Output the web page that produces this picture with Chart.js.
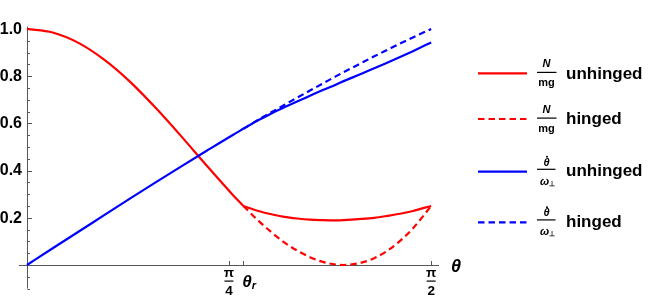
<!DOCTYPE html>
<html>
<head>
<meta charset="utf-8">
<script src="https://cdn.jsdelivr.net/npm/chart.js@4.4.1/dist/chart.umd.min.js"></script>
<style>
  html, body { margin: 0; padding: 0; background: #fff; }
  #wrap { width: 654px; height: 300px; }
</style>
</head>
<body>
<div id="wrap"><canvas id="myChart" width="654" height="300"></canvas></div>
<script>
// ---------------- data ----------------
// both cases share the curve until the rod lets go at theta_r
const thetaBefore = [0, 0.1, 0.2, 0.3, 0.4, 0.5, 0.6, 0.7, 0.8, 0.841];
const normalBefore = [1, 0.985, 0.941, 0.870, 0.777, 0.666, 0.545, 0.419, 0.297, 0.25];
const rateBefore = [0, 0.071, 0.141, 0.211, 0.281, 0.350, 0.418, 0.485, 0.551, 0.577];

const thetaAfter = [0.841, 0.9, 0.95, 1.0, 1.05, 1.1, 1.15, 1.2, 1.231, 1.3, 1.35, 1.4, 1.45, 1.5, 1.571];
const normalUnhinged = [0.25, 0.229, 0.215, 0.204, 0.197, 0.192, 0.190, 0.189, 0.190, 0.195, 0.200, 0.208, 0.217, 0.229, 0.25];
const normalHinged = [0.25, 0.187, 0.139, 0.096, 0.061, 0.033, 0.013, 0.002, 0, 0.010, 0.029, 0.060, 0.102, 0.155, 0.25];
const rateUnhinged = [0.577, 0.614, 0.642, 0.668, 0.693, 0.717, 0.741, 0.764, 0.779, 0.810, 0.834, 0.857, 0.881, 0.906, 0.943];
const rateHinged = [0.577, 0.616, 0.647, 0.678, 0.709, 0.739, 0.769, 0.799, 0.817, 0.856, 0.884, 0.911, 0.938, 0.964, 1.0];

const xTickValues = [0.785, 0.841, 1.571];
const xTickLabels = [['π', '4'], ['θ', 'r'], ['π', '2']];
const yTickValues = [0.2, 0.4, 0.6, 0.8, 1.0];
const yTickLabels = ['0.2', '0.4', '0.6', '0.8', '1.0'];

const RED = '#ff0000';
const BLUE = '#0000ff';
const AXIS = '#555555';
const FONT = "'Liberation Sans', Arial, sans-serif";

function toPoints(xs, ys){
  return xs.map((x, i) => ({x: x, y: ys[i]}));
}

function curve(xs, ys, color, dashed){
  return {
    data: toPoints(xs, ys),
    borderColor: color,
    borderWidth: 2.2,
    borderDash: dashed ? [6.5, 4] : [],
    pointRadius: 0,
    fill: false,
    cubicInterpolationMode: 'monotone',
    clip: false
  };
}

// legend rows: [color, dashed, fraction top, fraction bottom, text, line y, text baseline]
const legendRows = [
  [RED, false, 'N', 'mg', 'unhinged', 73.3, 78.5],
  [RED, true, 'N', 'mg', 'hinged', 119, 123.5],
  [BLUE, false, 'θ', 'ω', 'unhinged', 171.7, 176],
  [BLUE, true, 'θ', 'ω', 'hinged', 222.3, 227]
];

//------------------ drawing helpers ------------------

function line(ctx, x1, y1, x2, y2){
  ctx.beginPath();
  ctx.moveTo(x1, y1);
  ctx.lineTo(x2, y2);
  ctx.stroke();
}

const axesPlugin = {
  id: 'mmaAxes',
  beforeDatasetsDraw(chart){
    const ctx = chart.ctx;
    const xs = chart.scales.x, ys = chart.scales.y;
    const area = chart.chartArea;
    const x0 = Math.round(xs.getPixelForValue(0)) + 0.5;
    const y0 = Math.round(ys.getPixelForValue(0)) + 0.5;
    ctx.save();
    ctx.strokeStyle = AXIS;
    ctx.lineWidth = 1;
    line(ctx, area.left, y0, area.right - 4, y0);
    line(ctx, x0, area.top, x0, area.bottom);
    // y ticks, minor every 0.05
    for(let i = -2; i <= 20; i++){
      const py = Math.round(ys.getPixelForValue(i * 0.05)) + 0.5;
      const len = (i % 4 === 0) ? 4.5 : 2.5;
      line(ctx, x0, py, x0 + len, py);
    }
    xTickValues.forEach(v => {
      const px = Math.round(xs.getPixelForValue(v)) + 0.5;
      line(ctx, px, y0, px, y0 - 4.5);
    });
    ctx.restore();
  },
  afterDatasetsDraw(chart){
    const ctx = chart.ctx;
    const xs = chart.scales.x, ys = chart.scales.y;
    ctx.save();
    ctx.fillStyle = '#000';

    // y labels
    ctx.font = 'bold 16px ' + FONT;
    ctx.textAlign = 'right';
    ctx.textBaseline = 'middle';
    yTickValues.forEach((v, i) => {
      ctx.fillText(yTickLabels[i], 22, ys.getPixelForValue(v) + 0.5);
    });

    // x labels
    xTickValues.forEach((v, i) => {
      const px = xs.getPixelForValue(v);
      const lab = xTickLabels[i];
      if(lab[0] === 'π'){
        ctx.textAlign = 'center';
        ctx.textBaseline = 'middle';
        ctx.font = 'bold 13.5px ' + FONT;
        ctx.fillText(lab[0], px, 273.5);
        ctx.fillRect(px - 4.5, 280.5, 9, 1.2);
        ctx.fillText(lab[1], px, 291);
      }else{
        ctx.textAlign = 'left';
        ctx.textBaseline = 'alphabetic';
        ctx.font = 'italic bold 17px ' + FONT;
        ctx.fillText(lab[0], px - 1, 286.5);
        const w = ctx.measureText(lab[0]).width;
        ctx.font = 'italic bold 11px ' + FONT;
        ctx.fillText(lab[1], px - 1 + w, 289);
      }
    });

    // axis label
    ctx.font = 'italic bold 18px ' + FONT;
    ctx.textAlign = 'center';
    ctx.textBaseline = 'alphabetic';
    ctx.fillText('θ', 456, 271.5);

    // legend
    legendRows.forEach(r => {
      const [color, dashed, top, bottom, text, ly, base] = r;
      ctx.strokeStyle = color;
      ctx.lineWidth = 2.2;
      ctx.setLineDash(dashed ? [6.5, 4] : []);
      line(ctx, 478, ly, 527, ly);
      ctx.setLineDash([]);

      const cx = 546.5;
      ctx.fillStyle = '#000';
      ctx.textAlign = 'center';
      ctx.textBaseline = 'middle';
      if(top === 'N'){
        ctx.font = 'italic bold 11px ' + FONT;
        ctx.fillText(top, cx, ly - 9.3);
        ctx.fillRect(537, ly - 1.5, 19.5, 1.2);
        ctx.font = 'bold 11px ' + FONT;
        ctx.fillText(bottom, cx, ly + 10);
      }else{
        ctx.font = 'italic bold 11px ' + FONT;
        ctx.fillText(top, cx, ly - 9);
        ctx.beginPath();
        ctx.arc(cx + 0.5, ly - 15, 1, 0, Math.PI * 2);
        ctx.fill();
        ctx.fillRect(537, ly - 3, 18.5, 1.2);
        ctx.fillText(bottom, cx - 2, ly + 10);
        ctx.font = 'bold 7px ' + FONT;
        ctx.fillText('⊥', cx + 5, ly + 12);
      }
      ctx.font = 'bold 17px ' + FONT;
      ctx.textAlign = 'left';
      ctx.textBaseline = 'alphabetic';
      ctx.fillText(text, 566, base);
    });
    ctx.restore();
  }
};

//------------------ chart ------------------

function createChart(){
  const el = document.getElementById('myChart').getContext('2d');
  new Chart(el, {
    type: 'line',
    data: {
      datasets: [
        curve(thetaBefore, rateBefore, BLUE, false),
        curve(thetaAfter, rateUnhinged, BLUE, false),
        curve(thetaAfter, rateHinged, BLUE, true),
        curve(thetaBefore, normalBefore, RED, false),
        curve(thetaAfter, normalUnhinged, RED, false),
        curve(thetaAfter, normalHinged, RED, true)
      ]
    },
    options: {
      responsive: false,
      animation: false,
      devicePixelRatio: 1,
      layout: { padding: { left: 19, right: 211, top: 26.6, bottom: 11.4 } },
      scales: {
        x: { type: 'linear', min: -0.031, max: 1.617, display: false },
        y: { type: 'linear', min: -0.1, max: 1.01, display: false }
      },
      plugins: {
        legend: { display: false },
        tooltip: { enabled: false }
      }
    },
    plugins: [axesPlugin]
  });
}

createChart();
</script>
</body>
</html>
